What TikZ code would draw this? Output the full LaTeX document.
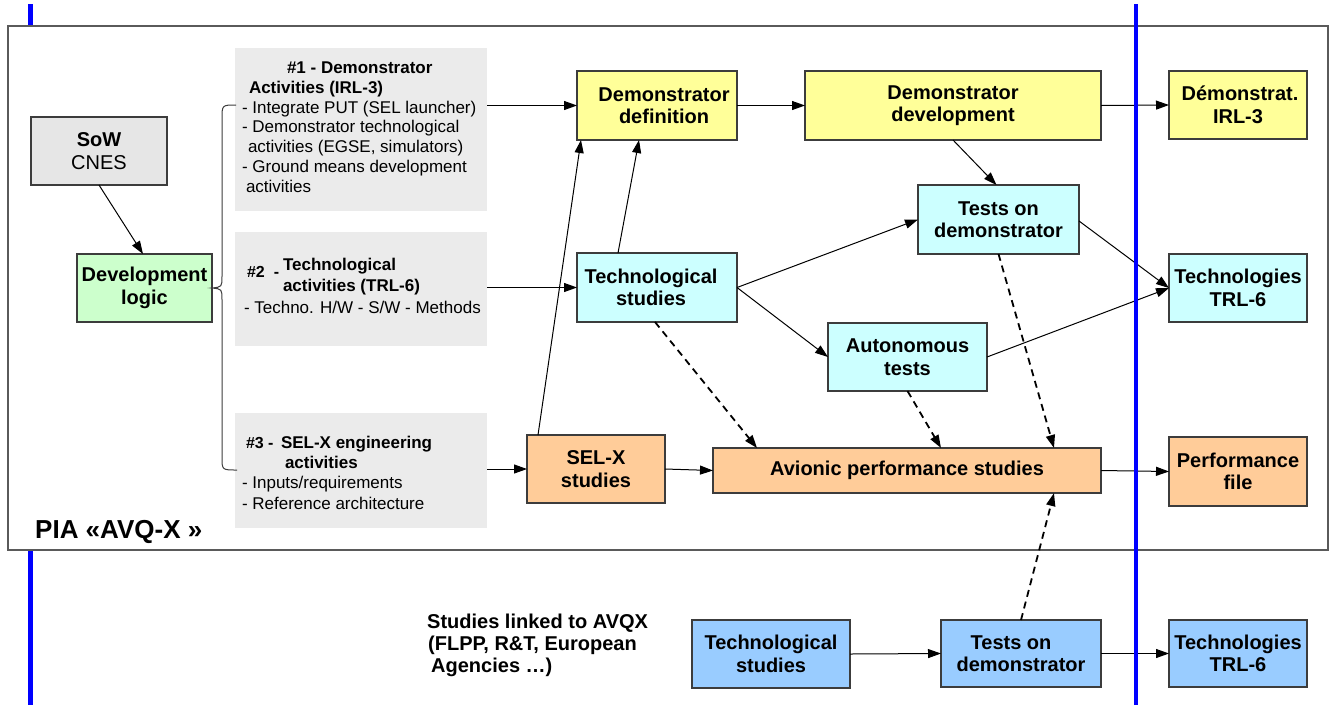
\documentclass[tikz,border=0pt]{standalone}
\usepackage{fontspec}
\setmainfont{Liberation Sans}
\usetikzlibrary{arrows.meta}
\definecolor{boxline}{HTML}{3C3C3C}
\definecolor{framegray}{HTML}{5A5A5A}
\definecolor{sowgray}{HTML}{E6E6E6}
\definecolor{actgray}{HTML}{EBEBEB}
\definecolor{yel}{HTML}{FFFF99}
\definecolor{cya}{HTML}{CCFFFF}
\definecolor{grn}{HTML}{CCFFCC}
\definecolor{ora}{HTML}{FFCC99}
\definecolor{blu}{HTML}{99CCFF}
\definecolor{lineblue}{HTML}{0000FF}
\begin{document}
\begin{tikzpicture}[x=1pt,y=-1pt,
  box/.style={draw=boxline, line width=1.3pt, inner sep=0pt, outer sep=0pt, align=center,
    font=\fontsize{20}{22.5}\selectfont\bfseries},
  actbox/.style={fill=actgray, inner sep=0pt, outer sep=0pt},
  acttext/.style={inner sep=0pt, outer sep=0pt, align=left, anchor=base west,
    font=\fontsize{17}{19.7}\selectfont},
  arr/.style={-{Triangle[length=13pt,width=9pt]}, line width=1pt, draw=black},
  darr/.style={arr, line width=1.8pt, dash pattern=on 7pt off 5pt},
  bluel/.style={draw=lineblue, line width=4.5pt}
]
\useasboundingbox (0,0) rectangle (1332,705);
% left blue line (behind frame)
\coordinate (lbt) at (30.5,4);
\coordinate (lbb) at (30.5,705);
\draw[bluel] (lbt) -- (lbb);
% frame
\draw[framegray, line width=1.5pt, fill=white] (8,26) rectangle (1328,550);
\node[anchor=base west, inner sep=0pt, font=\fontsize{26}{28}\selectfont\bfseries] (pia) at (35,538) {PIA «AVQ-X »};

% left boxes
\node[box, fill=sowgray, minimum width=136pt, minimum height=68pt] (sow) at (99,151)
  {SoW\\\mdseries CNES};
\node[box, fill=grn, minimum width=135pt, minimum height=68pt] (dev) at (144.5,288)
  {Development\\logic};

% activity boxes
\node[actbox, minimum width=252pt, minimum height=163pt] (g1) at (361,129.5) {};
\node[actbox, minimum width=252pt, minimum height=114pt] (g2) at (361,289) {};
\node[actbox, minimum width=252pt, minimum height=115pt] (g3) at (361,470.5) {};

% multi-line nodes: base anchor = baseline of last line
\node[acttext] (g1t) at (242,192) {\hspace*{45pt}\bfseries \#1 - Demonstrator\\
  \hspace*{7pt}\bfseries Activities (IRL-3)\\
  - Integrate PUT (SEL launcher)\\
  - Demonstrator technological\\
  \hspace*{6pt}activities (EGSE, simulators)\\
  - Ground means development\\
  \hspace*{4pt}activities};
\node[acttext, font=\fontsize{16}{18}\selectfont\bfseries] (g2a) at (247,277.5) {\#2\hspace{9pt}-};
\node[acttext, font=\fontsize{17}{21}\selectfont\bfseries] (g2b) at (283,291) {Technological\\activities (TRL-6)};
\node[acttext] (g2c) at (244,313) {- Techno. H/W - S/W - Methods};
\node[acttext, font=\fontsize{16}{18}\selectfont\bfseries] (g3a) at (246,448) {\#3 -};
\node[acttext, font=\fontsize{17}{19.7}\selectfont\bfseries] (g3b) at (281,468) {SEL-X engineering\\\hspace*{4pt}activities};
\node[acttext, font=\fontsize{17}{21}\selectfont] (g3c) at (242,509) {- Inputs/requirements\\- Reference architecture};

% brace
\coordinate (bt) at (236,105);
\coordinate (bb) at (237,470);
\draw[boxline, line width=1pt] (bt) .. controls (222,105) .. (222,119) -- (222,276)
  .. controls (222,287) .. (dev.east) .. controls (222,289) .. (222,300) -- (222,457)
  .. controls (222,470) .. (bb);

% main boxes
\node[box, fill=yel, minimum width=160pt, minimum height=69pt] (ddef) at (657,105.5) {\hspace*{14pt}Demonstrator\\\hspace*{14pt}definition};
\node[box, fill=yel, minimum width=296pt, minimum height=69pt] (ddev) at (953,105.5) {Demonstrator\\development};
\node[box, fill=yel, minimum width=138pt, minimum height=68pt] (dirl) at (1238,105) {\hspace*{4pt}Démonstrat.\\IRL-3};
\node[box, fill=cya, minimum width=160pt, minimum height=69pt] (tstud) at (657,287.5) {Technological\hspace*{12pt}\\studies\hspace*{12pt}};
\node[box, fill=cya, minimum width=161pt, minimum height=69pt] (tdem) at (998.5,219.5) {Tests on\\demonstrator};
\node[box, fill=cya, minimum width=159pt, minimum height=68pt] (auto) at (907.5,357) {Autonomous\\tests};
\node[box, fill=cya, minimum width=138pt, minimum height=68pt] (ttrl) at (1238,288) {Technologies\\TRL-6};
\node[box, fill=ora, minimum width=138pt, minimum height=68pt] (selx) at (596,469) {SEL-X\\studies};
\node[box, fill=ora, minimum width=388pt, minimum height=45pt] (avio) at (907,470.5) {Avionic performance studies};
\node[box, fill=ora, minimum width=138pt, minimum height=69pt] (perf) at (1238,471.5) {Performance\\file};
\node[box, fill=blu, minimum width=158pt, minimum height=68pt] (btech) at (771,654) {Technological\\studies};
\node[box, fill=blu, minimum width=160pt, minimum height=67pt] (btest) at (1021,653.5) {Tests on\hspace*{20pt}\\demonstrator};
\node[box, fill=blu, minimum width=138pt, minimum height=67pt] (btrl) at (1238,653.5) {Technologies\\TRL-6};

\node[inner sep=0pt, align=left, anchor=north west, font=\fontsize{20}{22}\selectfont\bfseries] (linked) at (427,614)
  {Studies linked to AVQX\\\hspace*{1pt}(FLPP, R\&T, European\\\hspace*{4pt}Agencies \dots)};

% solid arrows
\draw[arr] (sow.south) -- ([xshift=-1.5pt]dev.north);
\draw[arr] (g1.east |- ddef.west) -- (ddef.west);
\draw[arr] (ddef.east) -- (ddev.west);
\draw[arr] (ddev.east) -- (dirl.west);
\draw[arr] (ddev.south) -- ([xshift=-2pt]tdem.north);
\draw[arr] (g2.east |- tstud.west) -- (tstud.west);
\draw[arr] ([xshift=-39pt]tstud.north) -- ([xshift=-18pt]ddef.south);
\draw[arr] ([xshift=11pt]selx.north west) -- ([xshift=4pt]ddef.south west);
\draw[arr] (tstud.east) -- (tdem.west);
\draw[arr] (tstud.east) -- (auto.west);
\draw[arr] ([yshift=-1.5pt]tdem.east) -- (ttrl.west);
\draw[arr] (auto.east) -- (ttrl.west);
\draw[arr] (g3.east |- selx.west) -- (selx.west);
\draw[arr] (selx.east) -- (avio.west);
\draw[arr] (avio.east) -- (perf.west);
\draw[arr] (btech.east) -- (btest.west);
\draw[arr] (btest.east) -- (btrl.west);
% dashed arrows
\draw[darr] ([xshift=-2pt]tstud.south) -- ([xshift=-150pt]avio.north);
\draw[darr] (auto.south) -- ([xshift=34pt]avio.north);
\draw[darr] (tdem.south) -- ([xshift=147pt]avio.north);
\draw[darr] (btest.north) -- ([xshift=147pt]avio.south);

% right blue line (on top)
\coordinate (rbt) at (1136,4);
\coordinate (rbb) at (1136,705);
\draw[bluel] (rbt) -- (rbb);
\end{tikzpicture}
\end{document}
